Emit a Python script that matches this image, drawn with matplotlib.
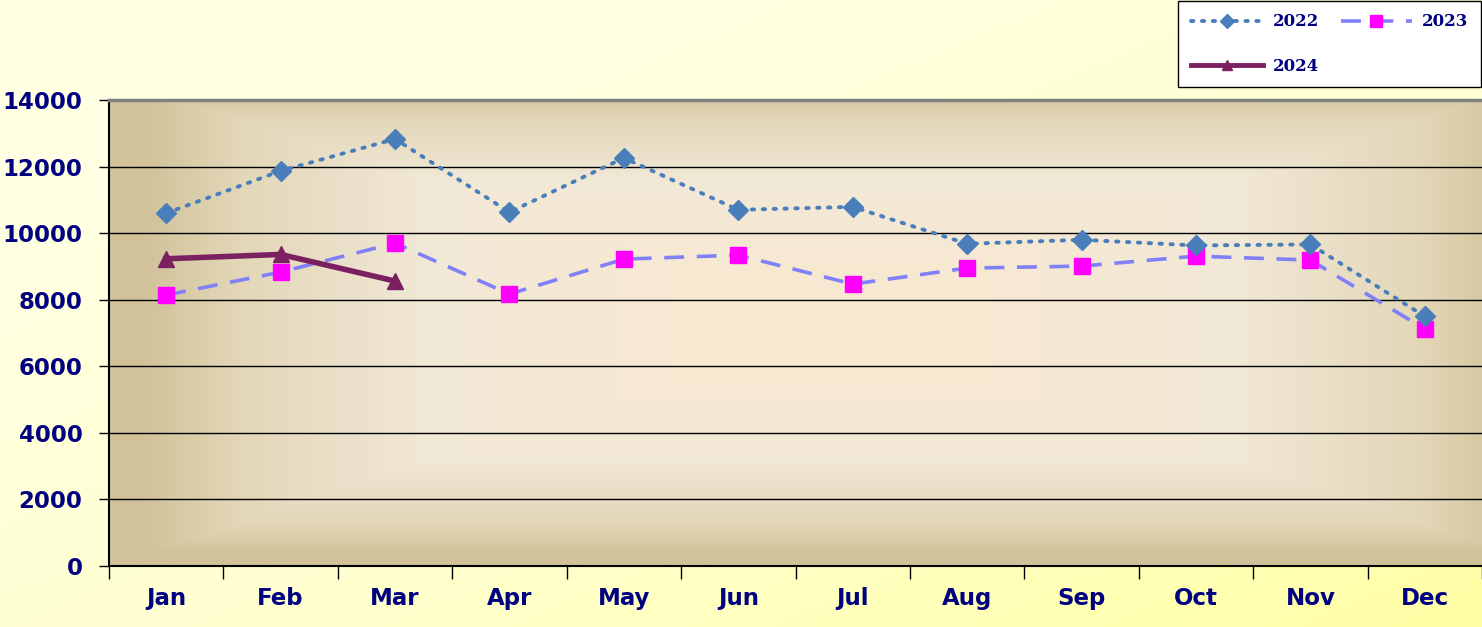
import numpy as np
import matplotlib
matplotlib.use("Agg")
import matplotlib.pyplot as plt
from matplotlib.colors import LinearSegmentedColormap
from matplotlib.lines import Line2D

months = ["Jan", "Feb", "Mar", "Apr", "May", "Jun", "Jul", "Aug", "Sep", "Oct", "Nov", "Dec"]
values_2022 = [10600, 11870, 12830, 10630, 12260, 10700, 10790, 9680, 9800, 9630, 9660, 7500]
values_2023 = [8140, 8830, 9700, 8170, 9220, 9340, 8470, 8950, 9010, 9310, 9190, 7120]
values_2024 = [9230, 9360, 8560]
y_ticks = [0, 2000, 4000, 6000, 8000, 10000, 12000, 14000]

W, H = 1482, 627
fig = plt.figure(figsize=(W / 100, H / 100), dpi=100)

# figure background gradient (light yellow)
bg = fig.add_axes([0, 0, 1, 1], zorder=-10)
gx, gy = np.meshgrid(np.linspace(0, 1, 300), np.linspace(0, 1, 150))
t = np.clip((gx * 0.6 + gy * 0.6) - 0.2, 0, 1)
cm_bg = LinearSegmentedColormap.from_list("bg", ["#FFFFE4", "#FFFFD0", "#FFFFA6"])
bg.imshow(t, cmap=cm_bg, aspect="auto", extent=[0, 1, 0, 1], origin="upper", vmin=0, vmax=1)
bg.axis("off")

ax = fig.add_axes([109 / W, (H - 566) / H, 1 - 109 / W, (566 - 100) / H])

# plot-area gradient: tan edges to cream centre
px, py = np.meshgrid(np.linspace(-1, 1, 400), np.linspace(-1, 1, 200))
dx = np.abs(px - 0.05)
dy = np.abs(py + 0.05)
d = np.clip(np.maximum(dx ** 1.5, dy ** 1.6), 0, 1)
cm_pa = LinearSegmentedColormap.from_list("pa", [(0, "#F9E9D2"), (0.45, "#F1E8D6"), (0.8, "#E3D7B8"), (1, "#D1C29A")])
ax.imshow(d, cmap=cm_pa, aspect="auto", extent=[-0.5, 11.5, 0, 14000], origin="upper",
          vmin=0, vmax=1, zorder=0)

x = np.arange(len(months))
style_2022 = dict(linestyle=(0, (0.6, 2.2)), dash_capstyle="round", color="#4A7EBB", lw=2.8,
                  marker="D", markerfacecolor="#4A7EBB", markeredgecolor="#4A7EBB")
style_2023 = dict(linestyle=(0, (5.5, 3.5)), color="#8080F8", lw=2.6,
                  marker="s", markerfacecolor="#FF00FF", markeredgecolor="#FF00FF")
style_2024 = dict(linestyle="-", color="#7B2060", lw=4.0,
                  marker="^", markerfacecolor="#7B2060", markeredgecolor="#7B2060")

ax.plot(x, values_2022, ms=10, zorder=4, **style_2022)
ax.plot(x, values_2023, ms=12, zorder=3, **style_2023)
ax.plot(x[:len(values_2024)], values_2024, ms=12, zorder=5, **style_2024)

ax.set_xlim(-0.5, 11.5)
ax.set_ylim(0, 14000)
ax.set_yticks(y_ticks)
ax.set_yticklabels([str(v) for v in y_ticks])
ax.set_xticks(x)
ax.set_xticklabels(months)
ax.set_xticks(np.arange(-0.5, 12, 1), minor=True)
ax.tick_params(axis="x", which="major", length=0, pad=15)
ax.tick_params(axis="x", which="minor", length=9, width=1, color="black", direction="out")
ax.tick_params(axis="y", length=7, width=1, color="black", direction="out", pad=12)
for lbl in ax.get_xticklabels() + ax.get_yticklabels():
    lbl.set_fontweight("bold")
    lbl.set_color("#000080")
    lbl.set_fontsize(16.5)
    lbl.set_family("DejaVu Sans")

ax.grid(axis="y", color="black", lw=1)
for gl in ax.get_ygridlines():
    gl.set_zorder(1)
ax.spines["top"].set_color("#808080")
ax.spines["top"].set_linewidth(2.5)
ax.spines["right"].set_visible(False)
ax.spines["left"].set_color("black")
ax.spines["left"].set_linewidth(1.5)
ax.spines["bottom"].set_color("black")
ax.spines["bottom"].set_linewidth(1.5)

# legend proxies with smaller markers (order gives row 1: 2022, 2023; row 2: 2024)
h22 = Line2D([], [], ms=7, **style_2022)
h23 = Line2D([], [], ms=9, **style_2023)
h24 = Line2D([], [], ms=7, **{**style_2024, "lw": 3.5})
leg = fig.legend([h22, h24, h23], ["2022", "2024", "2023"],
                 loc="upper right", bbox_to_anchor=(1.0, 1.0), ncol=2, frameon=True,
                 fancybox=False, edgecolor="black", facecolor="white", framealpha=1,
                 handlelength=4.3, handletextpad=0.6, columnspacing=1.3, labelspacing=1.65,
                 borderpad=0.75, borderaxespad=0.05,
                 prop={"weight": "bold", "size": 12, "family": "DejaVu Serif"})
for txt in leg.get_texts():
    txt.set_color("#000080")
leg.get_frame().set_linewidth(1)

fig.savefig("out.png", dpi=100)
